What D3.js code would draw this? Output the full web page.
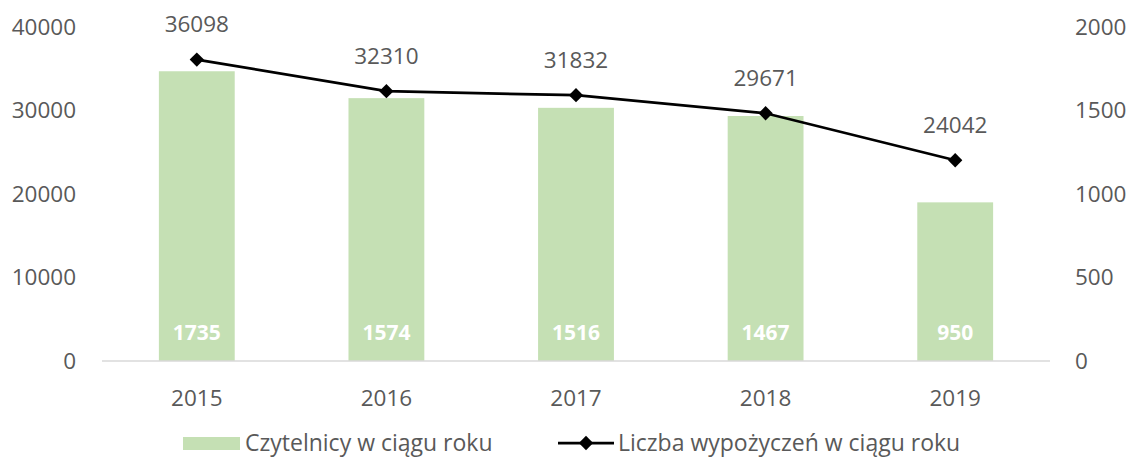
<!DOCTYPE html>
<html>
<head>
<meta charset="utf-8">
<script src="https://cdn.jsdelivr.net/npm/d3@7"></script>
<style>
  body { margin: 0; background: #fff; }
  text { font-family: "Open Sans", "Noto Sans", sans-serif; }
</style>
</head>
<body>
<svg id="chart"></svg>
<script>
// data
const years = ["2015", "2016", "2017", "2018", "2019"];
const readers = [1735, 1574, 1516, 1467, 950];          // bars, right axis
const loans = [36098, 32310, 31832, 29671, 24042];      // line, left axis
const leftTicks = [0, 10000, 20000, 30000, 40000];
const rightTicks = [0, 500, 1000, 1500, 2000];
const seriesNames = ["Czytelnicy w ciągu roku", "Liczba wypożyczeń w ciągu roku"];

const width = 1132, height = 459;
const margin = { top: 27, right: 82, bottom: 98, left: 102 };
const textColor = "#595959";
const barColor = "#c5e0b4";
const fontSize = 22.5;

const svg = d3.select("#chart")
    .attr("width", width)
    .attr("height", height);

const x = d3.scaleBand()
    .domain(years)
    .range([margin.left, width - margin.right])
    .paddingInner(0.6)
    .paddingOuter(0.3);

const yLeft = d3.scaleLinear().domain([0, 40000]).range([height - margin.bottom, margin.top]);
const yRight = d3.scaleLinear().domain([0, 2000]).range([height - margin.bottom, margin.top]);

// bars
svg.append("g")
    .selectAll("rect")
    .data(readers)
    .join("rect")
    .attr("x", (d, i) => x(years[i]))
    .attr("y", d => yRight(d))
    .attr("width", x.bandwidth())
    .attr("height", d => yRight(0) - yRight(d))
    .attr("fill", barColor);

// bar labels
svg.append("g")
    .selectAll("text")
    .data(readers)
    .join("text")
    .attr("x", (d, i) => x(years[i]) + x.bandwidth() / 2)
    .attr("y", yRight(0) - 28)
    .attr("dy", "0.35em")
    .attr("text-anchor", "middle")
    .attr("fill", "#fff")
    .attr("font-weight", "bold")
    .attr("font-size", 21)
    .text(d => d);

// baseline
svg.append("line")
    .attr("x1", margin.left)
    .attr("x2", width - margin.right)
    .attr("y1", yLeft(0))
    .attr("y2", yLeft(0))
    .attr("stroke", "#d9d9d9")
    .attr("stroke-width", 1.5);

// left axis
const leftAxis = svg.append("g")
    .attr("transform", `translate(${margin.left - 26},0)`)
    .call(d3.axisLeft(yLeft).tickValues(leftTicks).tickFormat(d3.format("d")).tickSize(0).tickPadding(0));
// right axis
const rightAxis = svg.append("g")
    .attr("transform", `translate(${width - margin.right + 25},0)`)
    .call(d3.axisRight(yRight).tickValues(rightTicks).tickFormat(d3.format("d")).tickSize(0).tickPadding(0));
// x axis
const xAxis = svg.append("g")
    .attr("transform", `translate(0,${yLeft(0) + 37})`)
    .call(d3.axisBottom(x).tickSize(0).tickPadding(0));

[leftAxis, rightAxis, xAxis].forEach(a => {
    a.select(".domain").remove();
    a.selectAll("text")
        .attr("fill", textColor)
        .attr("font-size", fontSize)
        .attr("font-family", "'Open Sans', 'Noto Sans', sans-serif");
});
xAxis.selectAll("text").attr("dy", "0.35em");

// line
const cx = (d, i) => x(years[i]) + x.bandwidth() / 2;
const line = d3.line()
    .x((d, i) => cx(d, i))
    .y(d => yLeft(d));

svg.append("path")
    .datum(loans)
    .attr("fill", "none")
    .attr("stroke", "#000")
    .attr("stroke-width", 2.75)
    .attr("d", line);

const diamond = d3.symbol().type(d3.symbolDiamond2).size(130);
svg.append("g")
    .selectAll("path")
    .data(loans)
    .join("path")
    .attr("transform", (d, i) => `translate(${cx(d, i)},${yLeft(d)})`)
    .attr("d", diamond)
    .attr("fill", "#000");

svg.append("g")
    .selectAll("text")
    .data(loans)
    .join("text")
    .attr("x", (d, i) => cx(d, i))
    .attr("y", d => yLeft(d) - 35)
    .attr("dy", "0.35em")
    .attr("text-anchor", "middle")
    .attr("fill", textColor)
    .attr("font-size", fontSize)
    .text(d => d);

// legend
const legend = svg.append("g").attr("transform", `translate(0,${height - 16})`);
legend.append("rect")
    .attr("x", 183)
    .attr("y", -6)
    .attr("width", 57)
    .attr("height", 13)
    .attr("fill", barColor);
legend.append("text")
    .attr("x", 245)
    .attr("dy", "0.35em")
    .attr("fill", textColor)
    .attr("font-size", 23)
    .text(seriesNames[0]);
legend.append("line")
    .attr("x1", 558)
    .attr("x2", 614)
    .attr("stroke", "#000")
    .attr("stroke-width", 2.75);
legend.append("path")
    .attr("transform", "translate(586,0)")
    .attr("d", diamond)
    .attr("fill", "#000");
legend.append("text")
    .attr("x", 618)
    .attr("dy", "0.35em")
    .attr("fill", textColor)
    .attr("font-size", 23)
    .text(seriesNames[1]);
</script>
</body>
</html>
